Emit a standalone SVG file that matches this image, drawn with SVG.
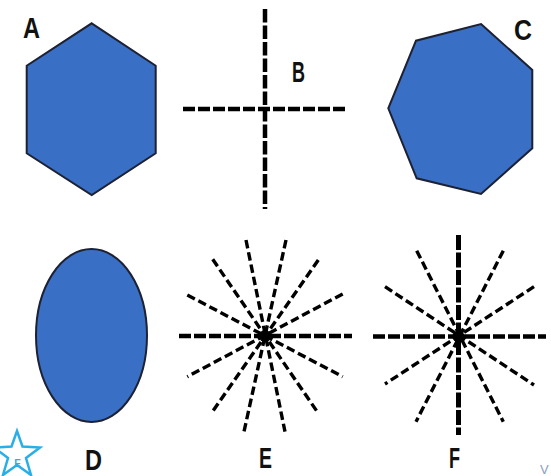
<svg xmlns="http://www.w3.org/2000/svg" width="551" height="476" viewBox="0 0 551 476">
<style>
.shape{fill:#3a6fc6;stroke:#1c2233;stroke-width:2;stroke-linejoin:miter}
.lbl{font-family:"Liberation Sans",Arial,sans-serif;font-weight:bold;font-size:29px;fill:#111}
.thick{stroke:#000;stroke-width:4.5;fill:none;stroke-dasharray:12 3}
.thickv{stroke:#000;stroke-width:4.5;fill:none;stroke-dasharray:13.5 3}
.ray{stroke:#000;stroke-width:3.4;fill:none;stroke-dasharray:8.5 4}
</style>
<rect width="551" height="476" fill="#fff"/>
<g id="A">
<polygon class="shape" points="91.7,23.3 155.7,65.7 155.7,153.3 91.7,195 26.7,153.3 26.7,65.7"/>
<text class="lbl" x="23" y="38" textLength="17" lengthAdjust="spacingAndGlyphs">A</text>
</g>
<g id="B">
<line class="thickv" x1="265" y1="9" x2="265" y2="209"/>
<line class="thick" x1="183" y1="109" x2="346" y2="109"/>
<text class="lbl" x="292" y="82" textLength="13" lengthAdjust="spacingAndGlyphs">B</text>
</g>
<g id="C">
<polygon class="shape" points="481,24 532.3,70 532.3,148.3 481,194 416.7,178.3 388.3,108.3 416,40.7"/>
<text class="lbl" x="514" y="40" textLength="18" lengthAdjust="spacingAndGlyphs">C</text>
</g>
<g id="D">
<ellipse class="shape" cx="91.5" cy="335.5" rx="55.5" ry="86.5"/>
<text class="lbl" x="85" y="470" textLength="17" lengthAdjust="spacingAndGlyphs">D</text>
</g>
<g id="E">
<line class="thick" x1="179" y1="336" x2="352" y2="336"/>
<line class="ray" x1="246" y1="240" x2="285" y2="431.7"/>
<line class="ray" x1="286" y1="240" x2="244" y2="431.7"/>
<line class="ray" x1="212.7" y1="259.3" x2="318.3" y2="413.3"/>
<line class="ray" x1="318.3" y1="260" x2="211.7" y2="412.7"/>
<line class="ray" x1="187.3" y1="295" x2="342.7" y2="376.7"/>
<line class="ray" x1="342.7" y1="294" x2="187.3" y2="376.7"/>
<circle cx="265" cy="336" r="6" fill="#000"/>
<text class="lbl" x="259" y="468" textLength="13" lengthAdjust="spacingAndGlyphs">E</text>
</g>
<g id="F">
<line class="thickv" x1="458.5" y1="235" x2="458.5" y2="435" style="stroke-width:5;stroke-dasharray:15 2.5"/>
<line class="thick" x1="373" y1="336.5" x2="546" y2="336.5"/>
<line class="ray" x1="416.7" y1="250.7" x2="503.3" y2="421.7"/>
<line class="ray" x1="503.3" y1="250.7" x2="416" y2="421.7"/>
<line class="ray" x1="385" y1="286.7" x2="534" y2="385"/>
<line class="ray" x1="534" y1="286.7" x2="385" y2="384"/>
<circle cx="458.5" cy="336.5" r="6" fill="#000"/>
<text class="lbl" x="449" y="468" textLength="11" lengthAdjust="spacingAndGlyphs">F</text>
</g>
<g id="badge">
<polygon points="17,431 22.5,446.5 40,447.5 26,458 31,475 17,465 3,475 8,458 -6,447.5 11.5,446.5" fill="#fff" stroke="#29aee8" stroke-width="2.5" stroke-linejoin="miter"/>
<text x="17.5" y="467" font-family="'Liberation Sans',Arial,sans-serif" font-weight="bold" font-size="10" fill="#29aee8" text-anchor="middle">E</text>
</g>
<text x="540" y="474" font-family="'Liberation Sans',Arial,sans-serif" font-size="13" fill="#8aa0be">V</text>
</svg>
